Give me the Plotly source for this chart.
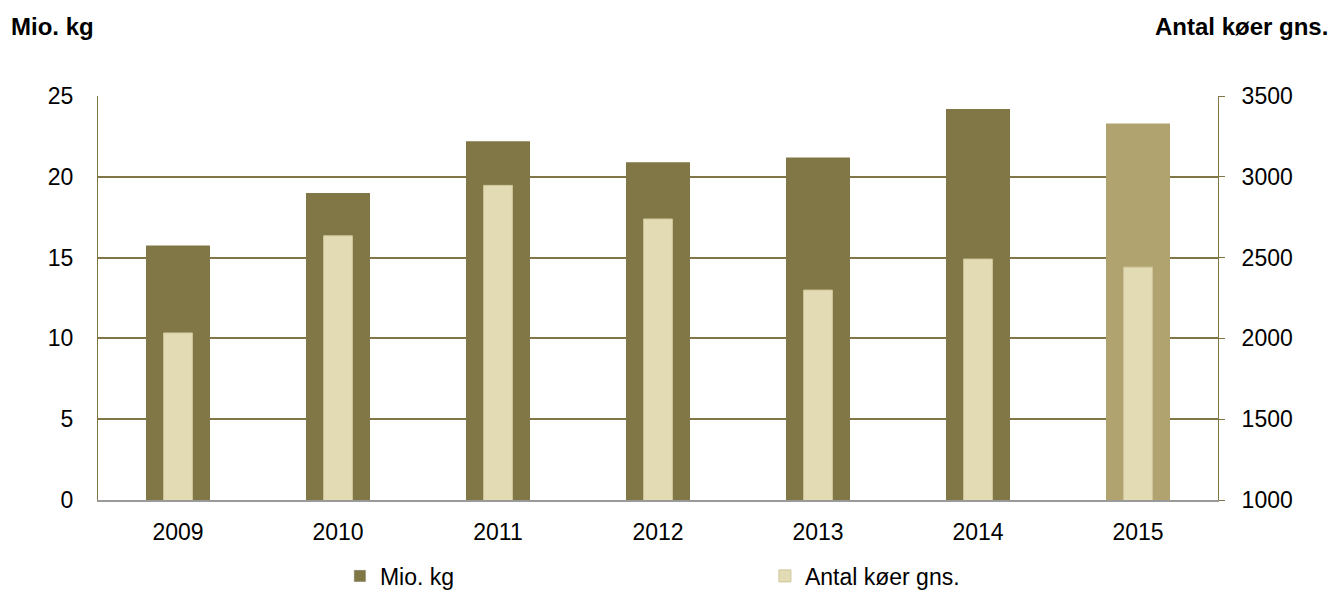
import plotly.graph_objects as go

years = ["2009", "2010", "2011", "2012", "2013", "2014", "2015"]
mio_kg = [15.75, 19.0, 22.2, 20.9, 21.2, 24.2, 23.3]
antal_koer = [2034, 2635, 2947, 2739, 2299, 2491, 2441]
left_ticks = [0, 5, 10, 15, 20, 25]
right_ticks = [1000, 1500, 2000, 2500, 3000, 3500]

dark = "#807646"
light = "#E3DBB4"
lighter2015 = "#B0A370"
bar_colors = [dark] * 6 + [lighter2015]

fig = go.Figure()
fig.add_trace(go.Bar(x=years, y=mio_kg, name="Mio. kg", marker=dict(color=bar_colors, line=dict(width=0)),
                     width=0.4, yaxis="y", showlegend=False))
# legend entry with uniform colour
fig.add_trace(go.Bar(x=[None], y=[None], name="Mio. kg", marker=dict(color=dark), yaxis="y"))
fig.add_trace(go.Bar(x=years, y=antal_koer, name="Antal køer gns.",
                     marker=dict(color=light, line=dict(color="#CFC69C", width=1)),
                     width=0.18, yaxis="y2"))

font = "Liberation Sans, Arial, sans-serif"
fs = 23
fig.update_layout(
    width=1335, height=585,
    margin=dict(l=90, r=125, t=88, b=93, autoexpand=False),
    paper_bgcolor="white", plot_bgcolor="white",
    barmode="overlay",
    font=dict(family=font, size=fs, color="#000000"),
    xaxis=dict(type="category", showgrid=False, showline=True, linecolor="#999999", linewidth=2,
               ticks="", tickfont=dict(size=fs), ticklabelstandoff=10),
    yaxis=dict(range=[0, 25], tickvals=left_ticks, showgrid=True, gridcolor=dark, gridwidth=2,
               showline=True, linecolor=dark, linewidth=1, ticks="",
               zeroline=False, tickfont=dict(size=fs), ticklabelstandoff=19),
    yaxis2=dict(range=[1000, 3500], tickvals=right_ticks, overlaying="y", side="right", showgrid=False,
                showline=True, linecolor=dark, linewidth=1, ticks="outside", ticklen=6, tickcolor=dark,
                zeroline=False, tickfont=dict(size=fs), ticklabelstandoff=12),
    legend=dict(orientation="h", x=0.216, xanchor="left", y=-0.188, yanchor="middle",
                entrywidth=380, entrywidthmode="pixels", font=dict(size=fs), traceorder="normal"),
    annotations=[
        dict(text="<b>Mio. kg</b>", xref="paper", yref="paper", x=-0.0795, y=1.173, xanchor="left",
             yanchor="middle", showarrow=False, font=dict(size=24, family=font)),
        dict(text="<b>Antal køer gns.</b>", xref="paper", yref="paper", x=1.1, y=1.173, xanchor="right",
             yanchor="middle", showarrow=False, font=dict(size=24, family=font)),
    ],
)
fig.write_html("out.html")
